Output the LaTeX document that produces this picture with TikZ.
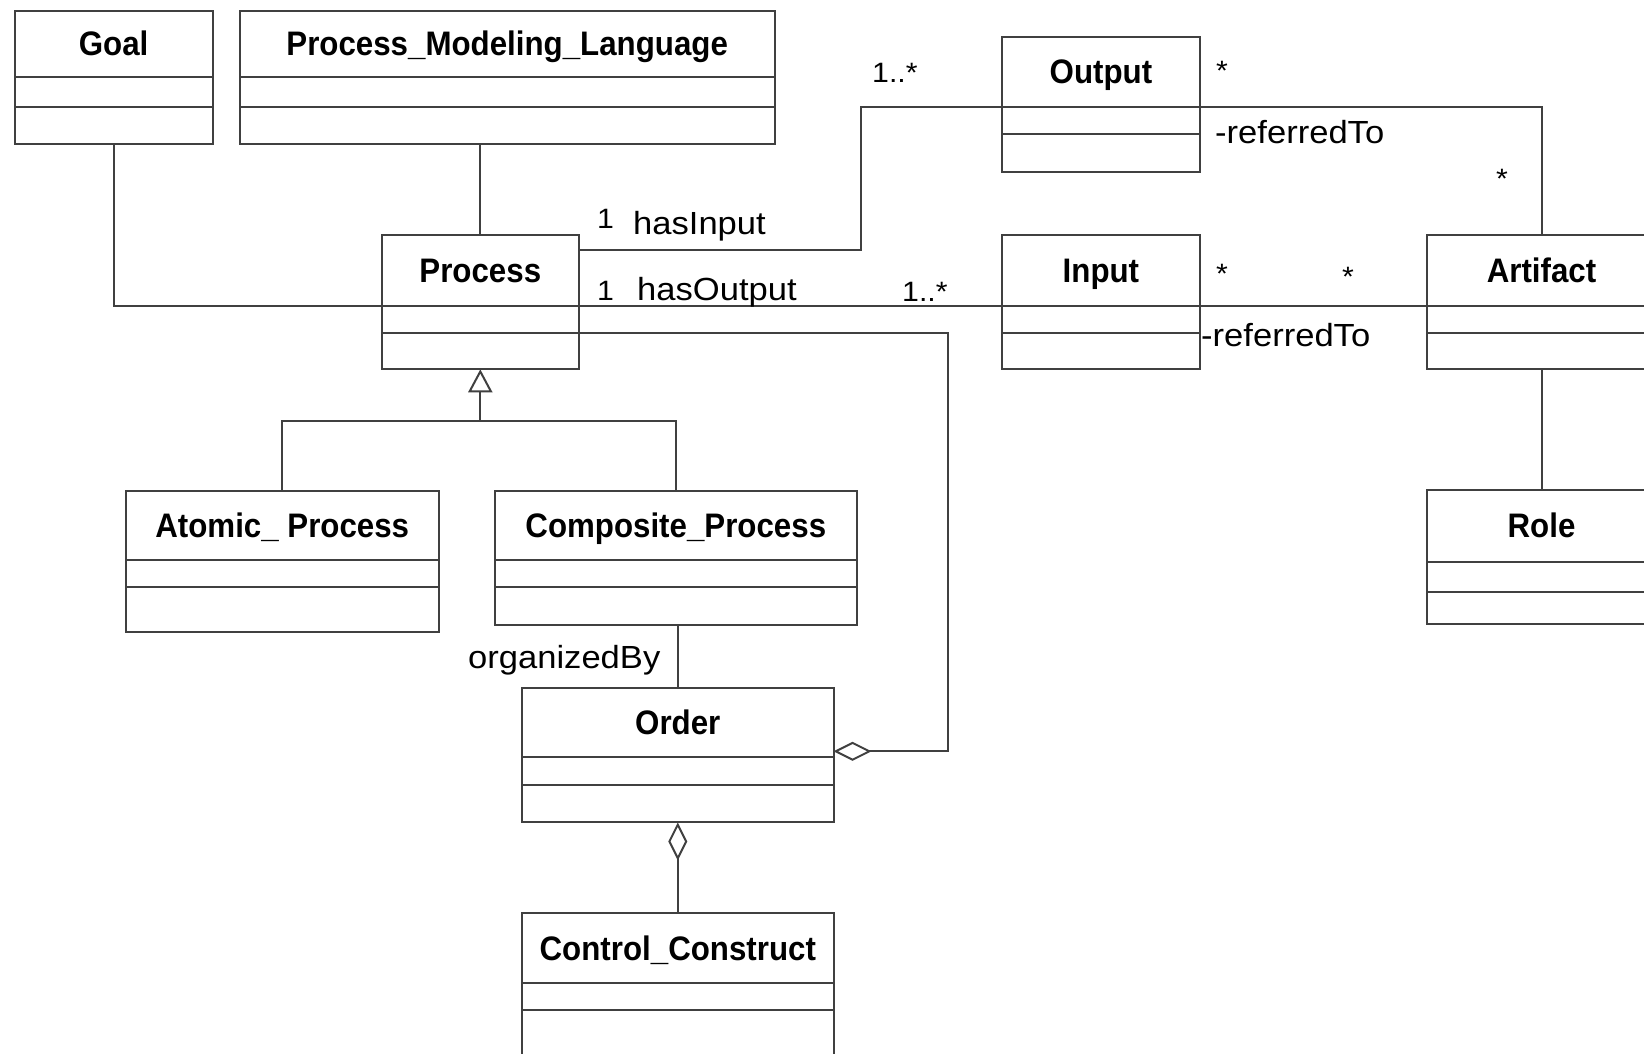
\documentclass[tikz,border=0pt]{standalone}
\usepackage{fontspec}
\setmainfont{Liberation Sans}
\newfontfamily\titlefamily{Liberation Sans}[FakeStretch=0.92]
\newfontfamily\labelfamily{Liberation Sans}[FakeStretch=1.08]
\usetikzlibrary{arrows.meta}
\definecolor{linegray}{RGB}{64,64,64}

\tikzset{
  umlline/.style={draw=linegray, line width=2pt},
  classbox/.style={umlline, rectangle, inner sep=0pt, outer sep=0pt},
  classtitle/.style={font=\titlefamily\bfseries\fontsize{34}{40}\selectfont,
    text height=24pt, text depth=0pt, inner sep=0pt},
  multlabel/.style={font=\labelfamily\fontsize{28}{32}\selectfont,
    anchor=base west, inner sep=0pt},
  rolelabel/.style={font=\labelfamily\fontsize{32}{38}\selectfont,
    anchor=base west, inner sep=0pt},
  gentip/.style={-{Triangle[open,length=23pt,width=24pt]}},
  aggtip/.style={{Diamond[open,length=38pt,width=19pt]}-},
}

% class box: name, title, x1, y1, x2, y2, first separator y, second separator y
\newcommand\umlclass[8]{%
  \node[classbox, anchor=north west, minimum width={(#5)-(#3)},
        minimum height={(#6)-(#4)}] (#1) at (#3,#4) {};
  \coordinate (#1-s1w) at (#3,#7); \coordinate (#1-s1e) at (#5,#7);
  \coordinate (#1-s2w) at (#3,#8); \coordinate (#1-s2e) at (#5,#8);
  \draw[umlline] (#1-s1w) -- (#1-s1e) (#1-s2w) -- (#1-s2e);
  \node[classtitle] (#1-title) at ({((#3)+(#5))/2},{((#4)+(#7))/2}) {#2};
}

\begin{document}
\begin{tikzpicture}[x=1pt, y=-1pt]
  \useasboundingbox (0,0) rectangle (1644,1054);
  \fill[white] (0,0) rectangle (1644,1054);
  \clip (0,0) rectangle (1644,1054);

  % classes
  \umlclass{goal}{Goal}{14.5}{10.7}{212.8}{144}{77.3}{106.7}
  \umlclass{pml}{Process\_Modeling\_Language}{239.8}{10.7}{774.5}{144}{77.3}{106.7}
  \umlclass{process}{Process}{381.6}{235.3}{579}{369.3}{305.5}{333}
  \umlclass{output}{Output}{1001.8}{37.3}{1200}{171.7}{106.7}{134}
  \umlclass{input}{Input}{1001.8}{235.3}{1200}{369.3}{305.5}{333}
  \umlclass{artifact}{Artifact}{1427}{235.3}{1656}{369.3}{305.5}{333}
  \umlclass{role}{Role}{1427}{490}{1656}{624}{561.7}{592.3}
  \umlclass{atomic}{Atomic\_ Process}{125.8}{490.5}{438.7}{631.7}{560}{587}
  \umlclass{composite}{Composite\_Process}{495}{490.5}{856.6}{624.6}{560}{587}
  \umlclass{order}{Order}{522}{688.3}{833.6}{822.4}{757.3}{784.8}
  \umlclass{cc}{Control\_Construct}{522}{913}{833.6}{1070}{983}{1010.4}

  % associations
  \draw[umlline] (goal.south) |- (process-s1w);
  \draw[umlline] (process.north) -- (process.north |- pml.south);
  \coordinate (hin) at ([yshift=-15pt]process.north east);
  \draw[umlline] (hin) -| ([xshift=-141pt]output-s1w) -- (output-s1w);
  \draw[umlline] (process-s1e) -- (input-s1w);
  \draw[umlline] (output-s1e) -| (artifact.north);
  \draw[umlline] (input-s1e) -- (artifact-s1w);
  \draw[umlline] (artifact.south) -- (role.north);
  \draw[umlline] (order.north) -- (order.north |- composite.south);

  % generalization
  \coordinate (gen) at ([yshift=-52pt]process.south);
  \draw[umlline] (atomic.north) |- (gen) -| (composite.north);
  \draw[umlline, gentip] (gen) -- (process.south);

  % aggregations
  \draw[umlline, aggtip] ([yshift=-63pt]order.north east) -- ++(114,0) |- (process-s2e);
  \draw[umlline, aggtip] (order.south) -- (cc.north);

  % multiplicities and role names
  \node[multlabel] (m-in-p) at (597,228) {1};
  \node[rolelabel] (r-hasinput) at (633,234) {hasInput};
  \node[multlabel] (m-out-p) at (597,300) {1};
  \node[rolelabel] (r-hasoutput) at (637,300) {hasOutput};
  \node[multlabel] (m-in-o) at (872,83) {1..*};
  \node[multlabel] (m-o-a1) at (1216,81) {*};
  \node[rolelabel] (r-ref1) at (1215,143) {-referredTo};
  \node[multlabel] (m-o-a2) at (1496,188) {*};
  \node[multlabel] (m-out-i) at (902,301) {1..*};
  \node[multlabel] (m-i-a1) at (1216,283) {*};
  \node[multlabel] (m-i-a2) at (1342,286) {*};
  \node[rolelabel] (r-ref2) at (1201,346) {-referredTo};
  \node[rolelabel] (r-org) at (468,668) {organizedBy};
\end{tikzpicture}
\end{document}
